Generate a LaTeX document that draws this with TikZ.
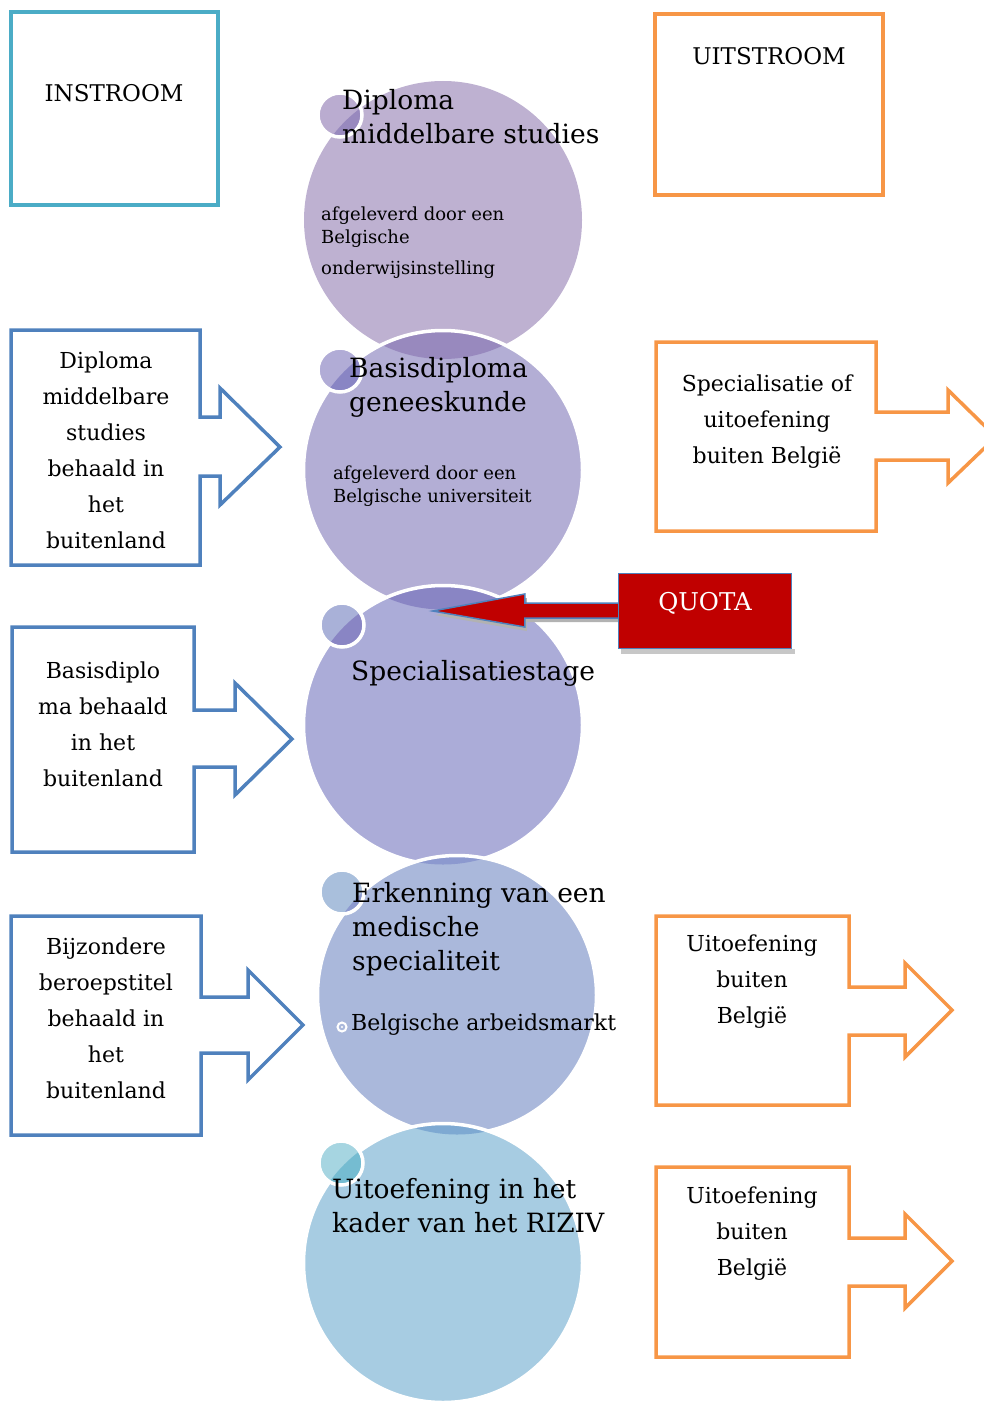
\documentclass[tikz,border=0pt]{standalone}
\usepackage{fontspec}
\setmainfont{DejaVu Serif}
\usepackage{xcolor}
\definecolor{in-teal}{RGB}{75,172,198}
\definecolor{out-orange}{RGB}{247,150,70}
\definecolor{flow-blue}{RGB}{79,129,189}
\definecolor{quota-red}{RGB}{192,0,0}
\definecolor{step-a}{RGB}{190,177,209}
\definecolor{step-b}{RGB}{179,174,213}
\definecolor{step-c}{RGB}{171,172,216}
\definecolor{step-d}{RGB}{170,184,219}
\definecolor{step-e}{RGB}{167,204,226}
\definecolor{dot-a}{RGB}{186,172,208}
\definecolor{dot-b}{RGB}{177,172,214}
\definecolor{dot-c}{RGB}{169,177,216}
\definecolor{dot-d}{RGB}{169,191,220}
\definecolor{dot-e}{RGB}{166,213,225}
\definecolor{deep-ab}{RGB}{152,137,190}
\definecolor{deep-bc}{RGB}{137,133,196}
\definecolor{deep-cd}{RGB}{140,153,207}
\definecolor{deep-de}{RGB}{126,169,210}
\definecolor{deep-dot-e}{RGB}{117,188,209}
\usepackage{tikz}
\usetikzlibrary{positioning}

\begin{document}
\begin{tikzpicture}[
    x=1pt, y=-1pt,
    every node/.style={inner sep=0pt},
    boxtext/.style={font=\fontsize{22}{36}\selectfont, align=center},
    headtext/.style={font=\fontsize{26.5}{34}\selectfont, align=left, anchor=base west},
    subtext/.style={font=\fontsize{18}{23}\selectfont, align=left, anchor=base west},
    inline/.style={draw=flow-blue, line width=3.5pt},
    outline/.style={draw=out-orange, line width=3.5pt},
    ring/.style={draw=white, line width=3.5pt}
]

\useasboundingbox (0,0) rectangle (984,1402);

% Column headers
\node[draw=in-teal, line width=3.5pt, minimum width=207, minimum height=193] (instroom) at (114.5,108.5) {};
\node[font=\fontsize{23}{28}\selectfont] (instroomtxt) at (114,93) {INSTROOM};
\node[draw=out-orange, line width=3.5pt, minimum width=228, minimum height=181] (uitstroom) at (769,104.5) {};
\node[font=\fontsize{23}{28}\selectfont] (uitstroomtxt) at (769,56) {UITSTROOM};

% Step circles, top to bottom
\fill[step-a] (443,220) circle (139);
\fill[dot-a] (340,115) circle (22);
\begin{scope}
    \clip (443,220) circle (139);
    \fill[deep-ab] (340,115) circle (22);
\end{scope}
\draw[ring] (340,115) circle (22);

\fill[step-b] (443,470) circle (139.5);
\begin{scope}
    \clip (443,220) circle (139);
    \fill[deep-ab] (443,470) circle (139.5);
\end{scope}
\draw[ring] (443,470) circle (139.5);
\fill[dot-b] (340,370) circle (22);
\begin{scope}
    \clip (443,470) circle (139.5);
    \fill[deep-bc] (340,370) circle (22);
\end{scope}
\draw[ring] (340,370) circle (22);

\fill[step-c] (443,725) circle (139.5);
\begin{scope}
    \clip (443,470) circle (139.5);
    \fill[deep-bc] (443,725) circle (139.5);
\end{scope}
\draw[ring] (443,725) circle (139.5);
\fill[dot-c] (342,625) circle (22);
\begin{scope}
    \clip (443,725) circle (139.5);
    \fill[deep-bc] (342,625) circle (22);
\end{scope}
\draw[ring] (342,625) circle (22);

\fill[step-d] (457,995) circle (139.5);
\begin{scope}
    \clip (443,725) circle (139.5);
    \fill[deep-cd] (457,995) circle (139.5);
\end{scope}
\draw[ring] (457,995) circle (139.5);
\fill[dot-d] (342,892) circle (22);
\begin{scope}
    \clip (457,995) circle (139.5);
    \fill[deep-cd] (342,892) circle (22);
\end{scope}
\draw[ring] (342,892) circle (22);

\fill[step-e] (443,1263) circle (139.5);
\begin{scope}
    \clip (457,995) circle (139.5);
    \fill[deep-de] (443,1263) circle (139.5);
\end{scope}
\draw[ring] (443,1263) circle (139.5);
\fill[dot-e] (341,1163) circle (22);
\begin{scope}
    \clip (443,1263) circle (139.5);
    \fill[deep-dot-e] (341,1163) circle (22);
\end{scope}
\draw[ring] (341,1163) circle (22);

% Circle texts (base = last line)
\node[headtext] (stapa) at (342,143) {Diploma\\middelbare studies};
\node[subtext] (stapasub) at (321,274) {afgeleverd door een\\Belgische\\[8pt]onderwijsinstelling};
\node[headtext] (stapb) at (349,411) {Basisdiploma\\geneeskunde};
\node[subtext] (stapbsub) at (333,502) {afgeleverd door een\\Belgische universiteit};
\node[headtext] (stapc) at (351,680) {Specialisatiestage};
\node[headtext] (stapd) at (352,970) {Erkenning van een\\medische\\specialiteit};
\draw[white, line width=2pt] (342,1027) circle (4.5);
\fill[white] (342,1027) circle (1.2);
\node[headtext, font=\fontsize{22}{28}\selectfont] (stapdsub) at (351,1030) {Belgische arbeidsmarkt};
\node[headtext] (stape) at (332,1232) {Uitoefening in het\\kader van het RIZIV};

% Quota arrow into the stage circle
\node[fill=quota-red, draw=flow-blue, line width=1.5pt, minimum width=173, minimum height=75] (quota) at (705,611) {};
\fill[black!22] ([xshift=3pt]quota.south west) rectangle ([xshift=3pt, yshift=-5pt]quota.south east);
\fill[black!30]
    ([yshift=4pt]quota.west) -- ([xshift=-91pt, yshift=4pt]quota.west)
    -- ([xshift=-91pt, yshift=13pt]quota.west) -- ([xshift=-183pt, yshift=-4pt]quota.west)
    -- ([xshift=-91pt, yshift=-20pt]quota.west) -- ([xshift=-91pt, yshift=-11pt]quota.west)
    -- ([yshift=-11pt]quota.west) -- cycle;
\filldraw[fill=quota-red, draw=flow-blue, line width=1.5pt]
    ([yshift=8pt]quota.west) -- ([xshift=-93pt, yshift=8pt]quota.west)
    -- ([xshift=-93pt, yshift=17pt]quota.west) -- ([xshift=-185pt]quota.west)
    -- ([xshift=-93pt, yshift=-16pt]quota.west) -- ([xshift=-93pt, yshift=-7pt]quota.west)
    -- ([yshift=-7pt]quota.west);
\node[font=\fontsize{24.5}{28}\selectfont, text=white] (quotatxt) at ([yshift=8pt]quota.center) {QUOTA};

% Instroom arrows
\draw[inline] (11,330) -- (200,330) -- (200,417) -- (220,417) -- (220,388) -- (280,447)
    -- (220,505) -- (220,476) -- (200,476) -- (200,565) -- (11,565) -- cycle;
\node[boxtext] (inbuitenland) at (106,450) {Diploma\\middelbare\\studies\\behaald in\\het\\buitenland};

\draw[inline] (12,627) -- (194,627) -- (194,710) -- (235,710) -- (235,683) -- (292,739)
    -- (235,795) -- (235,767) -- (194,767) -- (194,852) -- (12,852) -- cycle;
\node[boxtext] (inbasis) at (103,724) {Basisdiplo\\ma behaald\\in het\\buitenland};

\draw[inline] (11,916) -- (201,916) -- (201,997) -- (248,997) -- (248,970) -- (303,1025)
    -- (248,1080) -- (248,1053) -- (201,1053) -- (201,1135) -- (11,1135) -- cycle;
\node[boxtext] (inbijzonder) at (106,1018) {Bijzondere\\beroepstitel\\behaald in\\het\\buitenland};

% Uitstroom arrows
\draw[outline] (656,342) -- (876,342) -- (876,412) -- (948,412) -- (948,390) -- (996,437)
    -- (948,483) -- (948,460) -- (876,460) -- (876,531) -- (656,531) -- cycle;
\node[boxtext] (uitspec) at (767,422) {Specialisatie of\\uitoefening\\buiten België};

\draw[outline] (656,916) -- (849,916) -- (849,987) -- (905,987) -- (905,963) -- (952,1010)
    -- (905,1057) -- (905,1035) -- (849,1035) -- (849,1105) -- (656,1105) -- cycle;
\node[boxtext] (uiterkend) at (752,982) {Uitoefening\\buiten\\België};

\draw[outline] (656,1167) -- (849,1167) -- (849,1238) -- (905,1238) -- (905,1214) -- (952,1261)
    -- (905,1308) -- (905,1286) -- (849,1286) -- (849,1357) -- (656,1357) -- cycle;
\node[boxtext] (uitriziv) at (752,1234) {Uitoefening\\buiten\\België};

\end{tikzpicture}
\end{document}
